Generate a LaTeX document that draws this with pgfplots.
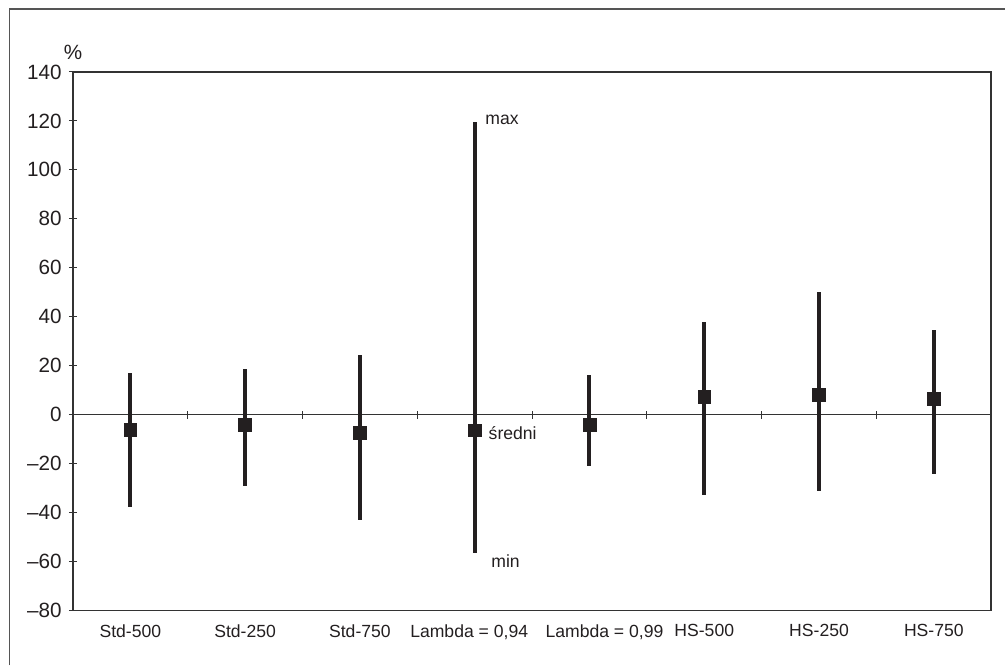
\documentclass[border=0pt]{standalone}
\usepackage{pgfplots}
\pgfplotsset{compat=1.18}
\usepackage{pgfplotstable}
\usepackage{fontspec}
\setmainfont{Liberation Sans}
\definecolor{ink}{HTML}{231F20}
\definecolor{axisc}{HTML}{333333}
\definecolor{framec}{HTML}{555555}
\newcommand\yfont{\fontsize{15.5pt}{18pt}\selectfont}
\newcommand\xfont{\fontsize{13.2pt}{15pt}\selectfont}

\pgfplotstableread{
x mean max min
0 -6.1 17.0 -37.8
1 -4.1 18.7 -29.0
2 -7.3 24.3 -43.0
3 -6.4 119.5 -56.5
4 -4.0 16.3 -21.0
5 7.3 38.0 -33.0
6 8.2 50.0 -31.3
7 6.6 34.7 -24.1
}\datatable

\begin{document}
\begin{tikzpicture}
\begin{axis}[
  scale only axis,
  width=689.25pt, height=404.25pt,
  at={(0,0)}, anchor=south west,
  xmin=-0.5, xmax=7.5,
  ymin=-80, ymax=140,
  xtick={0,1,2,3,4,5,6,7},
  xticklabels={{\xfont Std-500},{\xfont Std-250},{\xfont Std-750},{\xfont Lambda = 0,94\hspace*{8.25pt}},{\xfont\hspace*{22.5pt}Lambda = 0,99},{\xfont HS-500},{\xfont HS-250},{\xfont HS-750}},
  x tick style={draw=none},
  x tick label style={text=ink, yshift=-4pt},
  ytick={-80,-60,-40,-20,0,20,40,60,80,100,120,140},
  yticklabels={{\yfont –80},{\yfont –60},{\yfont –40},{\yfont –20},{\yfont 0},{\yfont 20},{\yfont 40},{\yfont 60},{\yfont 80},{\yfont 100},{\yfont 120},{\yfont 140}},
  y tick label style={text=ink, xshift=-2pt},
  ytick pos=left,
  tick align=center,
  major tick length=6pt,
  y tick style={axisc, line width=0.8pt},
  axis line style={axisc, line width=1.1pt},
  clip=false,
]
\draw[axisc, line width=0.9pt] (axis cs:-0.5,0) -- (axis cs:7.5,0);
\pgfplotsinvokeforeach{0.5,1.5,2.5,3.5,4.5,5.5,6.5}{
  \draw[axisc, line width=0.8pt] ([yshift=-3pt]axis cs:#1,0) -- ([yshift=3pt]axis cs:#1,0);
}
\addplot[
  only marks, mark=square*, mark size=4.8pt,
  mark options={fill=ink, draw=ink},
  error bars/.cd,
    y dir=both, y explicit,
    error mark=none,
    error bar style={line width=3pt, ink},
] table[x=x, y=mean,
  y error plus expr=\thisrow{max}-\thisrow{mean},
  y error minus expr=\thisrow{mean}-\thisrow{min}] {\datatable};
\node[anchor=west, text=ink] at ([xshift=4.5pt]axis cs:3,120.5) {\xfont max};
\node[anchor=west, text=ink] at ([xshift=7pt]axis cs:3,-7.5) {\xfont średni};
\node[anchor=west, text=ink] at ([xshift=9pt]axis cs:3,-60) {\xfont min};
\node[text=ink] at ([yshift=15pt]rel axis cs:0,1) {\yfont\%};
\end{axis}
\draw[framec, line width=1.2pt] (-47.6pt,-41.25pt) -- (-47.6pt,451.5pt) -- (699.75pt,451.5pt);
\path[use as bounding box] (-54.75pt,-41.25pt) rectangle (699.75pt,458.25pt);
\end{tikzpicture}
\end{document}
